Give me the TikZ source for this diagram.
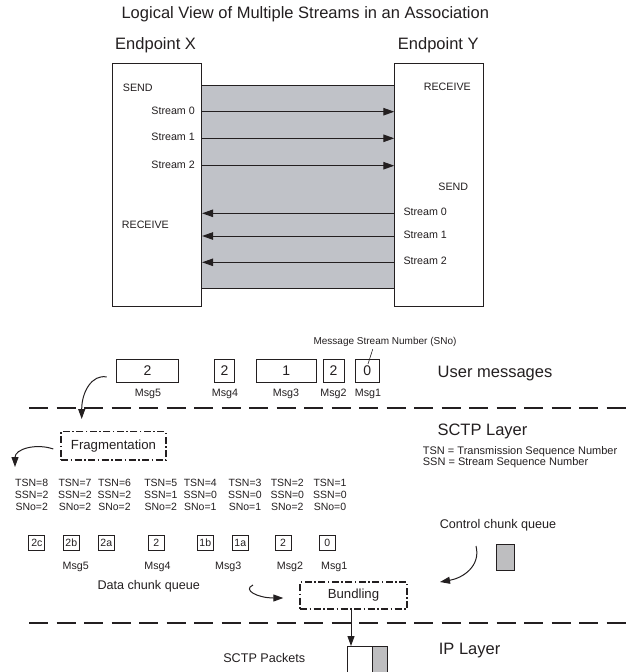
\documentclass[tikz,border=0pt]{standalone}
\usepackage{fontspec}
\setmainfont{Liberation Sans}
\usetikzlibrary{arrows.meta,calc}

\definecolor{ink}{RGB}{35,31,32}
\definecolor{band}{RGB}{192,194,200}
\definecolor{chunkgray}{RGB}{190,190,192}

\begin{document}
\begin{tikzpicture}[x=1pt,y=-1pt,
  bigtext/.style={font=\fontsize{16.5}{19}\selectfont, text=ink, inner sep=0pt},
  medtext/.style={font=\fontsize{12.6}{15}\selectfont, text=ink, inner sep=0pt},
  smalltext/.style={font=\fontsize{10.7}{12}\selectfont, text=ink, inner sep=0pt},
  tinytext/.style={font=\fontsize{10}{12}\selectfont, text=ink, inner sep=0pt},
  endbox/.style={draw=ink, fill=white, line width=0.8pt, minimum height=242.7pt, inner sep=0pt},
  streamarrow/.style={draw=ink, line width=1pt, -{Triangle[length=11pt,width=7.5pt]}},
  layerline/.style={draw=ink, line width=2pt, dash pattern=on 19pt off 8.5pt},
  dashdotbox/.style={draw=ink, line width=1.4pt, dash pattern=on 7pt off 2.5pt on 1.5pt off 2.5pt,
    inner sep=0pt, font=\fontsize{13.2}{15}\selectfont, text=ink},
  msgbox/.style={draw=ink, line width=0.8pt, minimum height=23pt, inner sep=0pt,
    font=\fontsize{14}{16}\selectfont, text=ink},
  chunk/.style={draw=ink, line width=0.8pt, minimum width=16pt, minimum height=15pt, inner sep=0pt,
    font=\fontsize{10.5}{12}\selectfont, text=ink},
  tsncol/.style={align=center, font=\fontsize{10.5}{11.7}\selectfont, text=ink, inner sep=0pt},
  curvearrow/.style={draw=ink, line width=1pt, -{Triangle[length=10pt,width=7pt]}},
  grayblock/.style={draw=ink, line width=0.8pt, fill=chunkgray, inner sep=0pt}
]
\useasboundingbox (0,0) rectangle (633,672);

% ---------- Logical view of streams ----------
\node[bigtext, anchor=base] (title) at (305.3,18.3) {Logical View of Multiple Streams in an Association};
\node[bigtext, anchor=base] (epx) at (155.6,49.3) {Endpoint X};
\node[bigtext, anchor=base] (epy) at (438.3,49.3) {Endpoint Y};

% association channel between the endpoints
\fill[band] (201.7,85) rectangle (394.7,288.3);
\draw[ink, line width=0.8pt] (201.7,85) -- (394.7,85);
\draw[ink, line width=0.8pt] (201.7,288.3) -- (394.7,288.3);

\node[endbox, minimum width=89pt] (xbox) at (157.2,184.65) {};
\node[endbox, minimum width=88.6pt] (ybox) at (439,184.65) {};

\node[smalltext, anchor=mid west] (xsend) at (122.7,89.3) {SEND};
\node[smalltext, anchor=mid west] (xrecv) at (121.7,226) {RECEIVE};
\node[smalltext, anchor=mid east] (yrecv) at (471,88.3) {RECEIVE};
\node[smalltext, anchor=mid east] (ysend) at (468.3,187.7) {SEND};

\node[smalltext, anchor=mid east] (sx0) at (195,111.7) {Stream 0};
\node[smalltext, anchor=mid east] (sx1) at (195,138.3) {Stream 1};
\node[smalltext, anchor=mid east] (sx2) at (195,165.7) {Stream 2};
\node[smalltext, anchor=mid west] (sy0) at (403.3,213.3) {Stream 0};
\node[smalltext, anchor=mid west] (sy1) at (403.3,236) {Stream 1};
\node[smalltext, anchor=mid west] (sy2) at (403.3,262.3) {Stream 2};

\foreach \s in {sx0,sx1,sx2}
  \draw[streamarrow] (xbox.east |- \s.mid) -- (ybox.west |- \s.mid);
\foreach \s in {sy0,sy1,sy2}
  \draw[streamarrow] (ybox.west |- \s.mid) -- (xbox.east |- \s.mid);

% ---------- User messages ----------
\node[tinytext] (sno) at (385,342) {Message Stream Number (SNo)};
\coordinate (snotop) at (372.7,349.3);
\coordinate (snotip) at (368,364);
\draw[ink, line width=0.6pt] (snotop) -- (snotip);

\node[msgbox, minimum width=61.3pt] (m5) at (147.5,370.5) {2};
\node[msgbox, minimum width=20.6pt] (m4) at (224.5,370.5) {2};
\node[msgbox, minimum width=60pt]   (m3) at (286.2,370.5) {1};
\node[msgbox, minimum width=21pt]   (m2) at (333.5,370.5) {2};
\node[msgbox, minimum width=24pt]   (m1) at (367.2,370.5) {0};

\node[smalltext] (lm5) at (148,393.5) {Msg5};
\node[smalltext] (lm4) at (225,393.5) {Msg4};
\node[smalltext] (lm3) at (286,393.5) {Msg3};
\node[smalltext] (lm2) at (333.5,393.5) {Msg2};
\node[smalltext] (lm1) at (368,393.5) {Msg1};

\node[bigtext, anchor=base west] (usr) at (437.5,377) {User messages};

\draw[layerline] (29,407.7) -- (633,407.7);

% ---------- SCTP layer ----------
\node[bigtext, anchor=base west] (sctp) at (437.3,435) {SCTP Layer};
\node[bigtext, anchor=base west] (ip) at (438.7,654.2) {IP Layer};

\node[font=\fontsize{11}{13}\selectfont, text=ink, inner sep=0pt, anchor=mid west] (legtsn) at (422.7,451.7) {TSN = Transmission Sequence Number};
\node[font=\fontsize{11}{13}\selectfont, text=ink, inner sep=0pt, anchor=mid west] (legssn) at (422.7,463.3) {SSN = Stream Sequence Number};

\coordinate (a1s) at (106.7,377);
\coordinate (a1e) at (81.7,419);
\draw[curvearrow] (a1s) .. controls (92,374) and (81.7,392) .. (a1e);

\node[dashdotbox, minimum width=105pt, minimum height=28.3pt] (frag) at (113.5,445.9) {Fragmentation};

\coordinate (a2s) at (53.3,449);
\coordinate (a2e) at (15,467);
\draw[curvearrow] (a2s) .. controls (36,443) and (15,449) .. (a2e);

\node[tsncol] (t8) at (31.7,495) {TSN=8\\SSN=2\\SNo=2};
\node[tsncol] (t7) at (75,495) {TSN=7\\SSN=2\\SNo=2};
\node[tsncol] (t6) at (114.5,495) {TSN=6\\SSN=2\\SNo=2};
\node[tsncol] (t5) at (160.8,495) {TSN=5\\SSN=1\\SNo=2};
\node[tsncol] (t4) at (200.3,495) {TSN=4\\SSN=0\\SNo=1};
\node[tsncol] (t3) at (245,495) {TSN=3\\SSN=0\\SNo=1};
\node[tsncol] (t2) at (287.3,495) {TSN=2\\SSN=0\\SNo=2};
\node[tsncol] (t1) at (330,495) {TSN=1\\SSN=0\\SNo=0};

\node[chunk] (c2c) at (36.8,543.2) {2c};
\node[chunk] (c2b) at (71.3,543.2) {2b};
\node[chunk] (c2a) at (106.3,543.2) {2a};
\node[chunk] (c4)  at (156.3,543.2) {2};
\node[chunk] (c1b) at (205.3,543.2) {1b};
\node[chunk] (c1a) at (240.3,543.2) {1a};
\node[chunk] (c2)  at (283,543.2) {2};
\node[chunk] (c0)  at (327.2,543.2) {0};

\node[smalltext] (q5) at (75.8,566.7) {Msg5};
\node[smalltext] (q4) at (157.5,566.7) {Msg4};
\node[smalltext] (q3) at (228.3,566.7) {Msg3};
\node[smalltext] (q2) at (290,566.7) {Msg2};
\node[smalltext] (q1) at (334.2,566.7) {Msg1};

\node[medtext] (dcq) at (148.7,586) {Data chunk queue};
\node[medtext] (ccq) at (498,525) {Control chunk queue};
\node[grayblock, minimum width=18.5pt, minimum height=25.7pt] (ctl) at (505.2,557.2) {};

\node[dashdotbox, minimum width=107pt, minimum height=27pt] (bund) at (353.5,595.5) {Bundling};

\coordinate (a3s) at (253,585);
\coordinate (a3e) at (283.3,598);
\draw[curvearrow] (a3s) .. controls (242,590) and (258,598) .. (a3e);

\coordinate (a4s) at (476,546);
\coordinate (a4e) at (440,582);
\draw[curvearrow] (a4s) .. controls (481,566) and (463,578) .. (a4e);

\draw[layerline] (29,622.7) -- (633,622.7);

% ---------- IP layer ----------
\draw[ink, line width=0.8pt] (347,646.7) rectangle (372.3,676);
\draw[grayblock] (372.3,646.7) rectangle (387.7,676);
\coordinate (pkttop) at (351,646);
\draw[curvearrow] (bund.south -| pkttop) -- (pkttop);

\node[medtext] (pkts) at (264.3,658) {SCTP Packets};

\end{tikzpicture}
\end{document}
